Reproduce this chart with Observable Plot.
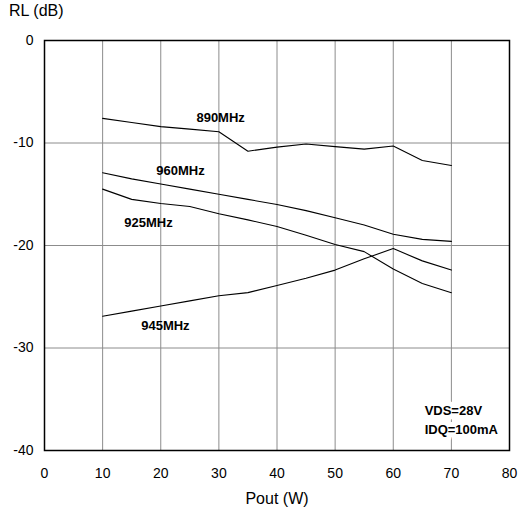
<!DOCTYPE html>
<html><head><meta charset="utf-8">
<script src="https://cdn.jsdelivr.net/npm/d3@7"></script>
<script src="https://cdn.jsdelivr.net/npm/@observablehq/plot@0.6"></script>
<style>
body{margin:0;background:#fff;font-family:"Liberation Sans",Arial,sans-serif;}
#wrap{position:relative;width:518px;height:519px;}
#ylab{position:absolute;left:9px;top:2px;font-size:16px;color:#000;}
</style></head>
<body><div id="wrap"><div id="ylab">RL (dB)</div><div id="chart"></div></div>
<script>
const pout = [10,15,20,25,30,35,40,45,50,55,60,65,70];
const rl890 = [-7.6,-8.0,-8.4,-8.65,-8.9,-10.8,-10.4,-10.1,-10.35,-10.6,-10.3,-11.7,-12.2];
const rl960 = [-12.9,-13.5,-14.0,-14.5,-15.0,-15.5,-16.0,-16.6,-17.3,-18.0,-18.9,-19.4,-19.6];
const rl925 = [-14.5,-15.5,-15.9,-16.2,-16.9,-17.5,-18.15,-19.0,-19.9,-20.6,-22.3,-23.7,-24.6];
const rl945 = [-26.9,-26.4,-25.9,-25.4,-24.9,-24.6,-23.9,-23.2,-22.4,-21.3,-20.3,-21.5,-22.4];
const seriesNames = ["890MHz","960MHz","925MHz","945MHz"];
const seriesValues = [rl890, rl960, rl925, rl945];
const labelX = [30.3, 23.4, 17.9, 20.8];
const labelY = [-7.5, -12.7, -17.8, -27.8];
const noteText = ["VDS=28V","IDQ=100mA"];
const noteX = [65.4, 65.4];
const noteY = [-36.1, -38.0];
const xTicks = [0,10,20,30,40,50,60,70,80];
const yTicks = [0,-10,-20,-30,-40];

const rows = [];
seriesNames.forEach((s,i)=>pout.forEach((x,j)=>rows.push({s, x, y: seriesValues[i][j]})));
const labels = seriesNames.map((s,i)=>({s, x: labelX[i], y: labelY[i]}));
const notes = noteText.map((t,i)=>({t, x: noteX[i], y: noteY[i]}));

const chart = Plot.plot({
  width: 518, height: 519,
  marginLeft: 44, marginRight: 9, marginTop: 40, marginBottom: 69,
  style: {fontFamily: '"Liberation Sans",Arial,sans-serif', fontSize: "14px", color: "#000", background: "#fff"},
  x: {domain: [0,80], ticks: xTicks, label: null},
  y: {domain: [-40,0], ticks: yTicks, label: null},
  marks: [
    Plot.gridX(xTicks.slice(1,-1), {stroke: "#8c8c8c", strokeOpacity: 1, strokeWidth: 1}),
    Plot.gridY(yTicks.slice(1,-1), {stroke: "#8c8c8c", strokeOpacity: 1, strokeWidth: 1}),
    Plot.axisX(xTicks, {tickSize: 0, tickPadding: 18, fontSize: 14, tickFormat: d => String(d)}),
    Plot.axisY(yTicks, {tickSize: 0, tickPadding: 11, fontSize: 14, tickFormat: d => String(d)}),
    Plot.text(["Pout (W)"], {frameAnchor: "bottom", dy: 53, fontSize: 16}),
    Plot.line(rows, {x: "x", y: "y", z: "s", stroke: "#000", strokeWidth: 1.1}),
    Plot.text(labels, {x: "x", y: "y", text: "s", fontWeight: "bold", fontSize: 13}),
    Plot.text(notes, {x: "x", y: "y", text: "t", fontWeight: "bold", fontSize: 13, textAnchor: "start", stroke: "#fff", strokeWidth: 10}),
    Plot.text(notes, {x: "x", y: "y", text: "t", fontWeight: "bold", fontSize: 13, textAnchor: "start"}),
    Plot.frame({stroke: "#000", strokeWidth: 1.5})
  ]
});
document.getElementById("chart").appendChild(chart);
</script>
</body></html>
